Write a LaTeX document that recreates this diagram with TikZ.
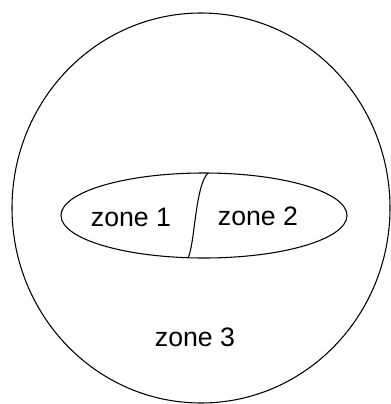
\documentclass[tikz,border=0pt]{standalone}
\usepackage{fontspec}
\setmainfont{Liberation Sans}
\usetikzlibrary{positioning}

\begin{document}
\begin{tikzpicture}[x=0.75pt, y=-0.75pt,
      boundary/.style={draw=black, line width=0.8pt},
      zonelabel/.style={inner sep=0pt, font=\fontsize{20}{24}\selectfont}]
    \useasboundingbox (0,0) rectangle (391,404);
    % outer region and inner ellipse
    \draw[boundary] (201,208) ellipse [x radius=189, y radius=195];
    \draw[boundary] (204,215.5) ellipse [x radius=143, y radius=42.5];
    \coordinate (divtop) at (208,173);
    \coordinate (divbot) at (188,258);
    \draw[boundary] (divtop) .. controls (195,186) and (195,244) .. (divbot);
    \node[zonelabel] (zone1) at (131,217) {zone 1};
    \node[zonelabel] (zone2) at (258,216) {zone 2};
    \node[zonelabel] (zone3) at (195,337) {zone 3};
  \end{tikzpicture}
\end{document}
